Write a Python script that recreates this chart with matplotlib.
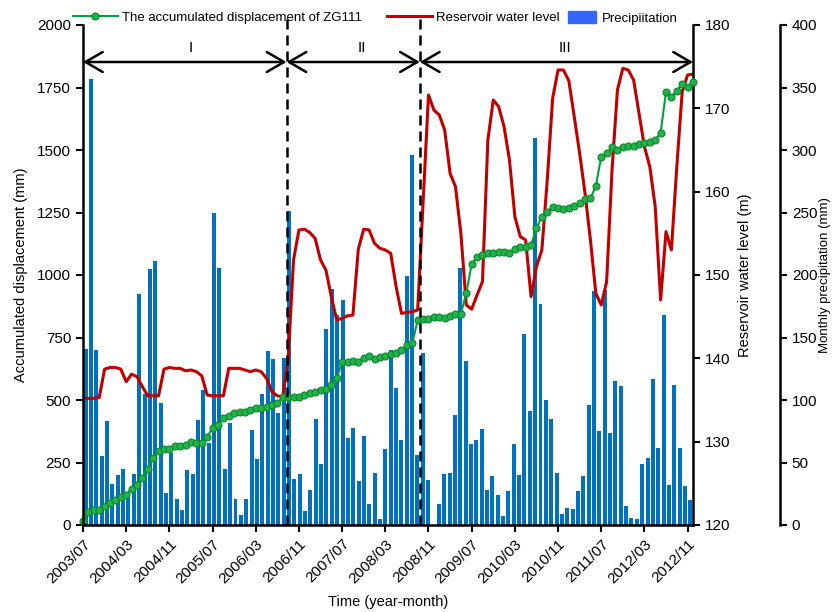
import numpy as np
import matplotlib
matplotlib.use('Agg')
import matplotlib.pyplot as plt
from matplotlib.lines import Line2D
from matplotlib.patches import Patch

plt.rcParams['font.family'] = 'Liberation Sans'

tick_labels = ['2003/07', '2004/03', '2004/11', '2005/07', '2006/03', '2006/11', '2007/07',
               '2008/03', '2008/11', '2009/07', '2010/03', '2010/11', '2011/07', '2012/03',
               '2012/11']

# monthly precipitation (mm), 2003/07 - 2012/12
precip = [141, 357, 140, 55, 83, 33, 40, 45, 25, 41,
          185, 105, 205, 211, 98, 26, 58, 21, 12, 44,
          41, 84, 108, 66, 250, 206, 45, 82, 21, 8,
          21, 76, 53, 105, 139, 133, 90, 134, 251, 37,
          41, 11, 28, 85, 49, 157, 189, 168, 180, 70,
          78, 35, 71, 17, 42, 5, 61, 140, 110, 68,
          199, 296, 56, 138, 36, 0, 17, 41, 42, 88,
          206, 131, 65, 68, 77, 28, 39, 24, 7.5, 27,
          65, 40, 153, 91, 310, 177, 100, 85, 42, 9,
          14, 13, 27, 39, 96, 187, 75, 188, 74, 115,
          111, 15, 6, 5, 49, 54, 117, 62, 168, 32,
          112, 62, 31, 20]

# reservoir water level (m)
water_level = [135.2, 135.2, 135.2, 135.3, 138.7, 138.9, 138.9, 138.7, 137.2, 138.1,
               137.8, 136.6, 135.5, 135.5, 135.5, 138.7, 138.9, 138.8, 138.8, 138.5,
               138.6, 138.4, 137.9, 135.6, 135.5, 135.5, 135.5, 138.8, 138.8, 138.8,
               138.6, 138.4, 138.6, 138.4, 137.6, 136.0, 135.5, 135.4, 139.8, 151.8,
               155.4, 155.5, 155.1, 154.4, 151.8, 150.6, 147.4, 144.6, 144.8, 145.1,
               145.2, 153.1, 155.5, 155.4, 153.8, 153.2, 153.0, 152.6, 148.6, 145.4,
               145.5, 145.6, 145.8, 158.7, 171.6, 169.8, 169.2, 167.4, 162.2, 160.6,
               155.0, 146.4, 145.9, 147.6, 149.2, 166.2, 171.0, 170.2, 167.8, 163.8,
               157.0, 154.6, 154.2, 147.4, 151.0, 153.0, 161.4, 171.2, 174.6, 174.6,
               173.3, 169.0, 164.6, 159.8, 154.2, 147.8, 146.4, 149.2, 162.6, 172.2,
               174.8, 174.6, 173.4, 169.4, 165.4, 163.0, 158.2, 147.0, 155.2, 153.0,
               163.0, 172.0, 174.0, 174.1]

# accumulated displacement of ZG111 (mm)
displacement = [16, 53, 60, 61, 77, 88, 100, 113, 122, 145,
                160, 190, 225, 270, 295, 305, 305, 316, 316, 320,
                333, 327, 329, 353, 387, 400, 427, 436, 447, 453,
                453, 460, 467, 467, 473, 480, 487, 513, 513, 511,
                511, 520, 527, 531, 540, 543, 560, 587, 653, 653,
                657, 653, 669, 676, 663, 671, 676, 684, 689, 700,
                720, 727, 820, 823, 823, 831, 833, 827, 836, 844,
                844, 927, 1044, 1071, 1080, 1087, 1089, 1091, 1091, 1089,
                1103, 1113, 1113, 1120, 1187, 1233, 1253, 1273, 1267, 1263,
                1267, 1276, 1287, 1303, 1307, 1356, 1473, 1487, 1511, 1500,
                1511, 1516, 1516, 1524, 1529, 1533, 1540, 1569, 1733, 1713,
                1737, 1764, 1753, 1771]

stage_bounds = [0, 37.7, 62.4, 113]
stage_names = ['I', 'II', 'III']
stage_label_x = [20, 51.6, 89.3]

n = len(displacement)
months = np.arange(n)
bar_x = (np.arange(len(precip)) + 0.5) * (n - 1) / len(precip)

fig = plt.figure(figsize=(8.33, 6.12), dpi=100)
ax_d = fig.add_axes([83 / 833, 1 - 525 / 612, 610 / 833, 500 / 612])
ax_w = ax_d.twinx()
ax_p = ax_d.twinx()
ax_p.set_zorder(1)
ax_w.set_zorder(2)
ax_d.set_zorder(3)
ax_d.patch.set_visible(False)
ax_w.patch.set_visible(False)

ax_p.bar(bar_x, precip, width=0.74, color='#0070c0')
ax_w.plot(months, water_level, color='#c00000', lw=2.2)
ax_d.plot(months, displacement, color='#00a03c', lw=1.5, marker='o', ms=5,
          mfc='#22b14c', mec='#0a8a2a', mew=0.8, clip_on=False)

ax_d.set_xlim(0, n - 1)
ax_d.set_ylim(0, 2000)
ax_w.set_ylim(120, 180)
ax_p.set_ylim(0, 400)

ax_d.set_yticks(np.arange(0, 2001, 250))
ax_w.set_yticks(np.arange(120, 181, 10))
ax_p.set_yticks(np.arange(0, 401, 50))
ax_d.set_xticks(months[::8])
ax_d.set_xticklabels(tick_labels, rotation=45, ha='right', rotation_mode='anchor')

for ax in (ax_d, ax_w, ax_p):
    for s in ax.spines.values():
        s.set_visible(False)
        s.set_linewidth(1.8)
    ax.tick_params(direction='out', length=5, width=1.5, labelsize=11)
ax_d.spines['left'].set_visible(True)
ax_d.spines['bottom'].set_visible(True)
ax_w.spines['right'].set_visible(True)
ax_p.spines['right'].set_visible(True)
ax_p.spines['right'].set_position(('axes', 697 / 610))

ax_d.set_xlabel('Time (year-month)', fontsize=10.5)
ax_d.set_ylabel('Accumulated displacement (mm)', fontsize=10.5)
ax_w.set_ylabel('Reservoir water level (m)', fontsize=10.5)
ax_p.set_ylabel('Monthly precipitation (mm)', fontsize=9.5)
ax_d.xaxis.set_label_coords(0.5, -0.14)
ax_d.yaxis.set_label_coords(-0.09, 0.5)
ax_w.yaxis.set_label_coords(1.074, 0.5)
ax_p.yaxis.set_label_coords(1.206, 0.5)

# stage boundaries and arrows
for xb in stage_bounds[1:3]:
    ax_d.plot([xb, xb], [0, 2040], color='black', lw=1.8, ls=(0, (4, 2.4)), clip_on=False)
for i in range(3):
    ax_d.annotate('', xy=(stage_bounds[i], 1852), xytext=(stage_bounds[i + 1], 1852),
                  arrowprops=dict(arrowstyle='<->,head_length=0.62,head_width=0.36',
                                  lw=1.8, color='black', mutation_scale=20,
                                  shrinkA=0, shrinkB=0))
    ax_d.text(stage_label_x[i], 1908, stage_names[i], ha='center', va='center', fontsize=11)

line_handles = [Line2D([], [], color='#00a03c', lw=1.5, marker='o', ms=5, mfc='#22b14c',
                       mec='#0a8a2a', mew=0.8),
                Line2D([], [], color='#c00000', lw=2.2)]
leg1 = fig.legend(line_handles, ['The accumulated displacement of ZG111', 'Reservoir water level'],
                  loc='center left', bbox_to_anchor=(73 / 833, 1 - 18 / 612), ncol=2,
                  frameon=False, fontsize=9.5, handlelength=3.4, handletextpad=0.3,
                  columnspacing=1.9, borderaxespad=0, borderpad=0)
fig.legend([Patch(color='#3366ff')], ['Precipiitation'], loc='center left',
           bbox_to_anchor=(568 / 833, 1 - 18 / 612), frameon=False, fontsize=9.5,
           handlelength=2.1, handleheight=1.0, handletextpad=0.5, borderaxespad=0, borderpad=0)

fig.savefig('out.png', dpi=100)
